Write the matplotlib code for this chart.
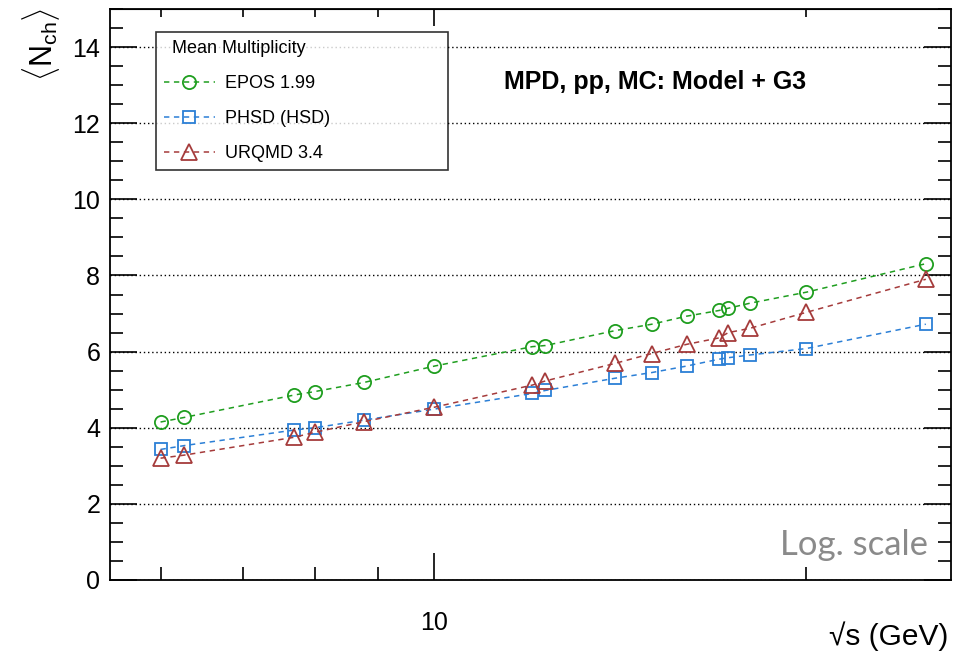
import numpy as np
import matplotlib
matplotlib.use('Agg')
import matplotlib.pyplot as plt
from matplotlib.ticker import FixedLocator, NullFormatter, FixedFormatter, MultipleLocator

plt.rcParams['font.family'] = ['Liberation Sans', 'DejaVu Sans']
plt.rcParams['mathtext.fontset'] = 'custom'
plt.rcParams['mathtext.rm'] = 'Liberation Sans'
plt.rcParams['mathtext.it'] = 'Liberation Sans'

# sqrt(s) in GeV
energies = [6.0, 6.27, 7.7, 8.0, 8.77, 10.0, 12.0, 12.3, 14.0, 15.0, 16.0, 17.0, 17.3, 18.0, 20.0, 25.0]
epos  = [4.15, 4.27, 4.86, 4.95, 5.19, 5.62, 6.13, 6.16, 6.55, 6.72, 6.93, 7.08, 7.14, 7.27, 7.56, 8.31]
phsd  = [3.43, 3.53, 3.94, 4.00, 4.20, 4.49, 4.90, 4.98, 5.30, 5.45, 5.62, 5.80, 5.84, 5.91, 6.08, 6.72]
urqmd = [3.20, 3.28, 3.75, 3.88, 4.16, 4.54, 5.12, 5.23, 5.69, 5.95, 6.19, 6.36, 6.50, 6.61, 7.03, 7.90]

series_names = ['EPOS 1.99', 'PHSD (HSD)', 'URQMD 3.4']
series_vals = [epos, phsd, urqmd]
colors = ['#1f9e1f', '#2b7fd6', '#a53b3b']
markers = ['o', 's', '^']

fig = plt.figure(figsize=(9.63, 6.59), dpi=100)
ax = fig.add_axes([0.1142, 0.1199, 0.8733, 0.8664])

for name, vals, c, m in zip(series_names, series_vals, colors, markers):
    ax.plot(energies, vals, linestyle=(0, (3.5, 3)), linewidth=1.1, color=c,
            marker=m, markersize={'o': 9.5, 's': 9, '^': 11}[m], markerfacecolor='none',
            markeredgecolor=c, markeredgewidth=1.3, label=name, zorder=3)

ax.set_xscale('log')
ax.set_xlim(5.46, 26.2)
ax.set_ylim(0, 15)

ax.xaxis.set_major_locator(FixedLocator([10]))
ax.xaxis.set_major_formatter(FixedFormatter(['10']))
ax.xaxis.set_minor_locator(FixedLocator([6, 7, 8, 9, 20]))
ax.xaxis.set_minor_formatter(NullFormatter())
ax.yaxis.set_major_locator(MultipleLocator(2))
ax.yaxis.set_minor_locator(MultipleLocator(0.5))

ax.tick_params(which='both', direction='in', top=False, right=True, width=1.2, colors='black')
ax.tick_params(which='major', length=19.5)
ax.tick_params(which='minor', length=9.5)
ax.tick_params(axis='x', which='major', labelsize=18, pad=22)
ax.tick_params(axis='y', which='major', labelsize=18, pad=7)
for s in ax.spines.values():
    s.set_linewidth(1.3)

# top axis ticks are shorter
top = ax.secondary_xaxis('top')
top.xaxis.set_major_locator(FixedLocator([10]))
top.xaxis.set_minor_locator(FixedLocator([6, 7, 8, 9, 20]))
top.xaxis.set_major_formatter(NullFormatter())
top.xaxis.set_minor_formatter(NullFormatter())
top.tick_params(which='both', direction='in', width=1.2)
top.tick_params(which='major', length=12.5)
top.tick_params(which='minor', length=5.5)

ax.yaxis.grid(True, which='major', color='black', linestyle=(0, (1, 2)), linewidth=1.0)
ax.set_axisbelow(True)

fig.text(0.985, 0.035, '\u221as (GeV)', ha='right', va='center', fontsize=21.5)
fig.text(0.043, 0.988, r'$\langle N_{\rm ch}\rangle$', ha='center', va='top',
         rotation=90, fontsize=22)

ax.text(0.648, 0.872, 'MPD, pp, MC: Model + G3', transform=ax.transAxes,
        ha='center', va='center', fontsize=18, fontweight='bold')
ax.text(0.9727, 0.0438, 'Log. scale', transform=ax.transAxes, ha='right',
        va='baseline', fontsize=25, color='#8a8a8a', family=['Lato', 'DejaVu Sans'])

leg = ax.legend(loc='upper left', bbox_to_anchor=(0.0547, 0.960, 0.347, 0.0),
                mode='expand', title='Mean Multiplicity', alignment='left',
                fontsize=13, title_fontsize=13, frameon=True, fancybox=False,
                edgecolor='black', handlelength=2.8, handletextpad=0.6,
                labelspacing=1.0, borderpad=0.45, borderaxespad=0)
leg.get_frame().set_linewidth(1.2)
leg.get_title().set_position((8, 0))

fig.savefig('out.png', dpi=100)
